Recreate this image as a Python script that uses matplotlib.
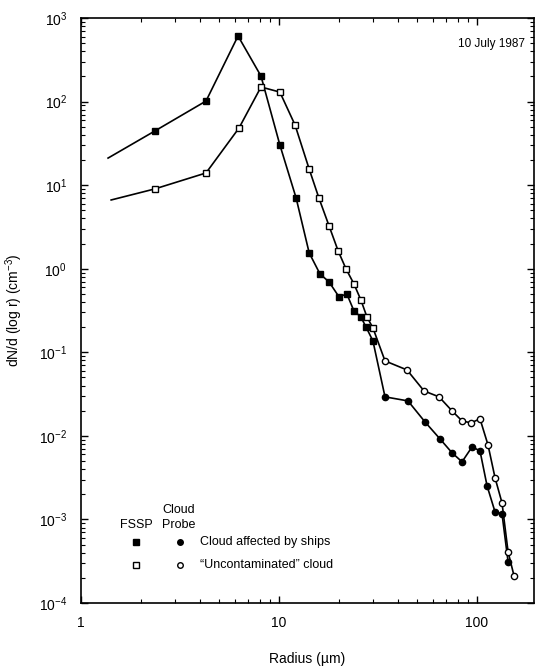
import matplotlib
matplotlib.use("Agg")
import matplotlib.pyplot as plt
from matplotlib.ticker import LogLocator, NullFormatter

plt.rcParams['font.family'] = ['Liberation Sans', 'DejaVu Sans']
plt.rcParams['mathtext.fontset'] = 'custom'
plt.rcParams['mathtext.rm'] = 'Liberation Sans'
plt.rcParams['mathtext.it'] = 'Liberation Sans:italic'
plt.rcParams['mathtext.default'] = 'regular'
plt.rcParams['axes.unicode_minus'] = False

# Droplet spectra, 10 July 1987
# FSSP size bins (radius, um); first entry is the line start without a marker
fssp_r_ship = [1.37, 2.36, 4.28, 6.21, 8.11, 10.1, 12.2, 14.2, 16.1, 17.9, 20.1, 22.0, 23.9, 25.9, 27.5, 29.8]
fssp_n_ship = [21.1, 44.5, 101.6, 610, 202, 30.3, 7.03, 1.55, 0.867, 0.695, 0.46, 0.50, 0.313, 0.265, 0.201, 0.137]
fssp_r_clean = [1.42, 2.36, 4.28, 6.28, 8.11, 10.1, 12.05, 14.2, 15.9, 17.9, 19.9, 21.8, 23.9, 25.9, 27.8, 29.8]
fssp_n_clean = [6.65, 9.02, 14.0, 48.3, 149.6, 130, 52.5, 15.6, 7.03, 3.25, 1.63, 0.995, 0.658, 0.424, 0.265, 0.196]

# Cloud probe size bins (radius, um)
cp_r_ship = [34.3, 44.8, 54.6, 65.0, 74.8, 84.0, 94.4, 103.5, 112.4, 123.3, 133.7, 143.5]
cp_n_ship = [0.0293, 0.0262, 0.0147, 0.0092, 0.00627, 0.00489, 0.00738, 0.00662, 0.00252, 0.00123, 0.00117, 0.000311]
cp_r_clean = [34.3, 44.3, 54.0, 64.3, 74.8, 84.0, 93.3, 103.5, 113.6, 123.3, 133.7, 143.5, 153.8]
cp_n_clean = [0.0789, 0.0615, 0.0345, 0.0293, 0.0199, 0.0151, 0.0143, 0.0160, 0.0078, 0.00315, 0.00158, 0.000409, 0.000211]

fig = plt.figure(figsize=(5.36, 6.68), dpi=100)
ax = fig.add_axes([0.1511, 0.0973, 0.8452, 0.8757])

lw = 1.2
# continuous curves through both instruments
ax.plot(fssp_r_ship + cp_r_ship, fssp_n_ship + cp_n_ship, color='black', lw=lw, zorder=2)
ax.plot(fssp_r_clean + cp_r_clean, fssp_n_clean + cp_n_clean, color='black', lw=lw, zorder=2)

# markers: squares for FSSP, circles for cloud probe
ax.plot(fssp_r_ship[1:], fssp_n_ship[1:], ls='none', marker='s', ms=5,
        mfc='black', mec='black', mew=1.0, zorder=3)
ax.plot(fssp_r_clean[1:], fssp_n_clean[1:], ls='none', marker='s', ms=5,
        mfc='white', mec='black', mew=1.0, zorder=3)
ax.plot(cp_r_ship, cp_n_ship, ls='none', marker='o', ms=4.5,
        mfc='black', mec='black', mew=1.0, zorder=3)
ax.plot(cp_r_clean, cp_n_clean, ls='none', marker='o', ms=4.5,
        mfc='white', mec='black', mew=1.0, zorder=4)

ax.set_xscale('log')
ax.set_yscale('log')
ax.set_xlim(1, 194)
ax.set_ylim(1e-4, 1e3)

ax.yaxis.set_major_locator(LogLocator(base=10, numticks=10))
ax.yaxis.set_minor_locator(LogLocator(base=10, subs=range(2, 10), numticks=20))
ax.yaxis.set_minor_formatter(NullFormatter())
ax.set_xticks([1, 10, 100])
ax.set_xticklabels(['1', '10', '100'])
ax.xaxis.set_minor_locator(LogLocator(base=10, subs=range(2, 10), numticks=20))
ax.xaxis.set_minor_formatter(NullFormatter())

ax.tick_params(which='both', direction='in', top=True, right=True, labelsize=10, color='black')
ax.tick_params(which='major', length=5, width=1.0)
ax.tick_params(which='minor', length=3, width=0.8)
ax.tick_params(axis='x', which='major', pad=9)
ax.tick_params(axis='y', which='major', pad=10)
for s in ax.spines.values():
    s.set_linewidth(1.2)

ax.set_xlabel('Radius (\u00b5m)', fontsize=10, labelpad=16)
ax.set_ylabel('dN/d (log r) (cm$^{-3}$)', fontsize=10, labelpad=10)

ax.text(0.98, 0.955, '10 July 1987', transform=ax.transAxes, ha='right', va='center', fontsize=8.5)

# legend block
ax.text(0.086, 0.133, 'FSSP', transform=ax.transAxes, ha='left', va='center', fontsize=9)
ax.text(0.179, 0.159, 'Cloud', transform=ax.transAxes, ha='left', va='center', fontsize=9)
ax.text(0.179, 0.133, 'Probe', transform=ax.transAxes, ha='left', va='center', fontsize=9)
leg_rows = [(0.104, 'black', 'Cloud affected by ships'),
            (0.065, 'white', '\u201cUncontaminated\u201d cloud')]
for yy, fc, label in leg_rows:
    ax.plot([0.121], [yy], transform=ax.transAxes, marker='s', ms=4.5, mfc=fc, mec='black',
            mew=1.0, ls='none', clip_on=False)
    ax.plot([0.218], [yy], transform=ax.transAxes, marker='o', ms=4, mfc=fc, mec='black',
            mew=1.0, ls='none', clip_on=False)
    ax.text(0.262, yy, label, transform=ax.transAxes, ha='left', va='center', fontsize=9)

fig.savefig('out.png', dpi=100)
